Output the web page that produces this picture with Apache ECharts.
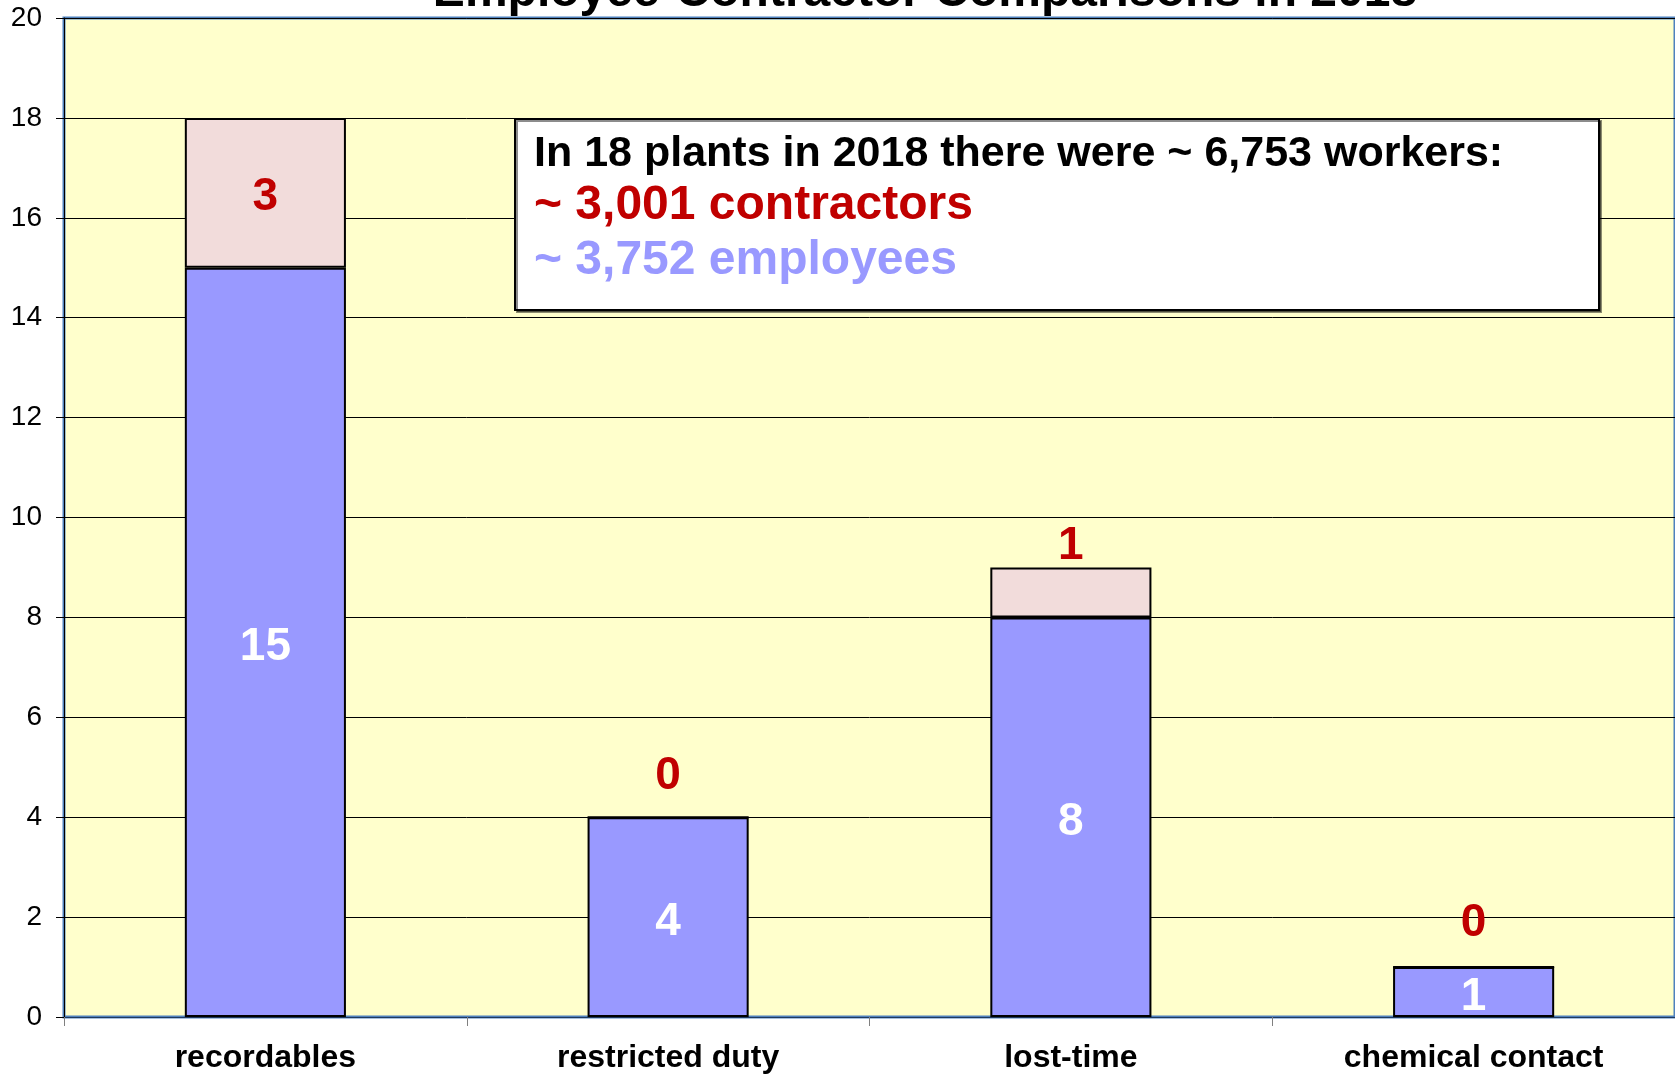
<!DOCTYPE html>
<html>
<head>
<meta charset="utf-8">
<script src="https://cdn.jsdelivr.net/npm/echarts@6/dist/echarts.min.js"></script>
<style>
  html, body { margin: 0; padding: 0; background: #fff; }
  #chart { width: 1675px; height: 1074px; }
</style>
</head>
<body>
<div id="chart"></div>
<script>
// Employee / contractor incident counts, 2018 — stacked bars.
var titleText = "Employee-Contractor Comparisons in 2018";
var categories = ["recordables", "restricted duty", "lost-time", "chemical contact"];
var employees = [15, 4, 8, 1];
var contractors = [3, 0, 1, 0];
// where the contractor number sits: inside the pink cap, or above the bar
var contractorLabelPos = ["inside", "top", "top", "top"];
var contractorLabelGap = [0, 21, 2, 24];
var noteLines = [
  "In 18 plants in 2018 there were ~ 6,753 workers:",
  "~ 3,001 contractors",
  "~ 3,752 employees"
];

var FONT = "'Liberation Sans', Arial, sans-serif";
var RED = "#c00000";
var BLUE = "#9999ff";
var PINK = "#f2dcdb";

var chart = echarts.init(document.getElementById("chart"));

chart.setOption({
  animation: false,
  backgroundColor: "#ffffff",
  textStyle: { fontFamily: FONT },
  grid: {
    left: 64, right: 0, top: 18, bottom: 57,
    show: true, backgroundColor: "#ffffcc",
    borderColor: "#4f81bd", borderWidth: 3,
    containLabel: false
  },
  xAxis: {
    type: "category",
    data: categories,
    axisLine: { show: true, lineStyle: { color: "#1f3a60", width: 1 } },
    axisTick: { show: true, length: 9, lineStyle: { color: "#808080" } },
    axisLabel: { color: "#000", fontSize: 32, fontWeight: "bold", fontFamily: FONT, margin: 25 }
  },
  yAxis: {
    type: "value",
    min: 0, max: 20, interval: 2,
    axisLine: { show: true, lineStyle: { color: "#000", width: 1 } },
    axisTick: { show: true, length: 8, lineStyle: { color: "#000" } },
    axisLabel: { color: "#000", fontSize: 28, fontFamily: FONT, margin: 22 },
    splitLine: { show: true, lineStyle: { color: "#000", width: 1 } }
  },
  series: [
    {
      name: "employees",
      type: "bar",
      stack: "all",
      barWidth: "40%",
      data: employees,
      itemStyle: { color: BLUE, borderColor: "#000", borderWidth: 2 },
      label: {
        show: true, position: "inside", color: "#fff", offset: [0, 5],
        fontSize: 46, fontWeight: "bold", fontFamily: FONT
      },
      z: 3
    },
    {
      name: "contractors",
      type: "bar",
      stack: "all",
      barWidth: "40%",
      data: contractors.map(function (v, i) {
        return { value: v, label: { position: contractorLabelPos[i], distance: contractorLabelGap[i] } };
      }),
      itemStyle: { color: PINK, borderColor: "#000", borderWidth: 2 },
      label: {
        show: true, color: RED, offset: [0, 4],
        fontSize: 46, fontWeight: "bold", fontFamily: FONT
      },
      z: 3
    }
  ],
  graphic: [
    {
      // title sits mostly above the page edge, only its lower part shows
      type: "text", x: 925, y: -7, z: 10,
      style: { text: titleText, fill: "#000", font: "bold 48px " + FONT,
        align: "center", verticalAlign: "middle" }
    },
    {
      type: "rect", z: 10,
      shape: { x: 515, y: 119, width: 1084, height: 191 },
      style: { fill: "#fff", stroke: "#000", lineWidth: 2,
        shadowColor: "rgba(0,0,0,0.45)", shadowOffsetX: 2, shadowOffsetY: 2 }
    },
    {
      type: "text", z: 11, x: 534, y: 154,
      style: { text: noteLines[0], fill: "#000", font: "bold 43px " + FONT, verticalAlign: "middle" }
    },
    {
      type: "text", z: 11, x: 534, y: 206,
      style: { text: noteLines[1], fill: RED, font: "bold 48px " + FONT, verticalAlign: "middle" }
    },
    {
      type: "text", z: 11, x: 534, y: 261,
      style: { text: noteLines[2], fill: BLUE, font: "bold 48px " + FONT, verticalAlign: "middle" }
    }
  ]
});
</script>
</body>
</html>
